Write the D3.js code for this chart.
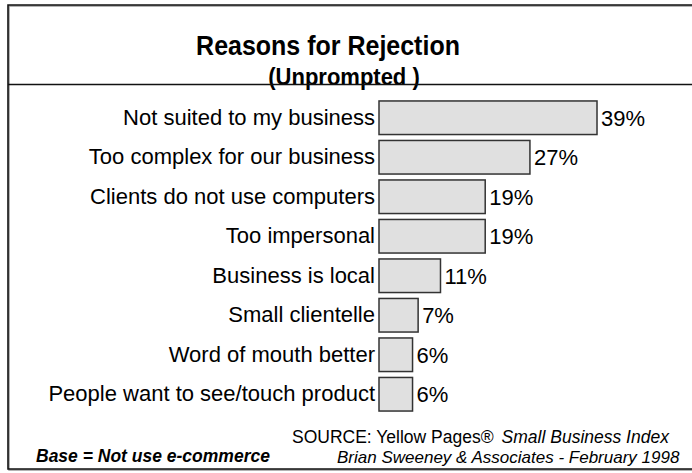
<!DOCTYPE html>
<html>
<head>
<meta charset="utf-8">
<script src="https://cdn.jsdelivr.net/npm/d3@7"></script>
<style>
  html, body { margin: 0; padding: 0; background: #fff; }
  svg { display: block; font-family: "Liberation Sans", Arial, Helvetica, sans-serif; }
</style>
</head>
<body>
<svg id="chart" width="692" height="473"></svg>
<script>
// Survey answers, in the order shown (largest first)
const reasons = [
  "Not suited to my business",
  "Too complex for our business",
  "Clients do not use computers",
  "Too impersonal",
  "Business is local",
  "Small clientelle",
  "Word of mouth better",
  "People want to see/touch product"
];
const shares = [39, 27, 19, 19, 11, 7, 6, 6];

const titleText = "Reasons for Rejection";
const subtitleText = "(Unprompted )";
const baseNote = "Base = Not use e-commerce";
const sourceLead = "SOURCE: Yellow Pages®";
const sourceTitle = "Small Business Index";
const creditLine = "Brian Sweeney & Associates - February 1998";

const svg = d3.select("#chart");

// Slide frame: open on the right, with a soft shadow line
const frame = svg.append("g");
frame.append("path")
  .attr("d", "M 700 6 L 9 6 L 9 470 L 700 470")
  .attr("fill", "none").attr("stroke", "#9a9a9a").attr("stroke-width", 1.5);
frame.append("path")
  .attr("d", "M 700 5 L 8 5 L 8 469 L 700 469")
  .attr("fill", "none").attr("stroke", "#111").attr("stroke-width", 1.6);

// Titles (slightly tall letterforms)
svg.append("text")
  .attr("transform", "translate(328,55) scale(1,1.1)")
  .attr("text-anchor", "middle")
  .attr("font-size", 25).attr("font-weight", "bold")
  .attr("fill", "#000")
  .text(titleText);

svg.append("text")
  .attr("transform", "translate(344,84.5) scale(1,1.05)")
  .attr("text-anchor", "middle")
  .attr("font-size", 22).attr("font-weight", "bold")
  .attr("fill", "#000")
  .text(subtitleText);

// Divider rule under the heading
svg.append("line")
  .attr("x1", 8).attr("x2", 692)
  .attr("y1", 84.5).attr("y2", 84.5)
  .attr("stroke", "#111").attr("stroke-width", 1.3);

// Scales
const x = d3.scaleLinear().domain([0, 100]).range([379, 379 + 559]);
const y = d3.scaleBand().domain(reasons).range([98, 414])
  .paddingInner(0.15).paddingOuter(0.075);

const data = reasons.map((r, i) => ({ reason: r, value: shares[i] }));

// Category axis (labels only, no line or ticks)
const yAxis = d3.axisLeft(y).tickSize(0).tickPadding(4);
const axisG = svg.append("g")
  .attr("transform", `translate(${x(0)},0)`)
  .call(yAxis);
axisG.select(".domain").remove();
axisG.selectAll("text")
  .attr("font-size", 22)
  .attr("font-family", '"Liberation Sans", Arial, sans-serif')
  .attr("fill", "#000");

// Bars
svg.append("g").selectAll("rect")
  .data(data)
  .join("rect")
  .attr("x", x(0))
  .attr("y", d => y(d.reason))
  .attr("width", d => x(d.value) - x(0))
  .attr("height", y.bandwidth())
  .attr("fill", "#e0e0e0")
  .attr("stroke", "#333")
  .attr("stroke-width", 1.5);

// Value labels
svg.append("g").selectAll("text")
  .data(data)
  .join("text")
  .attr("x", d => x(d.value) + 4)
  .attr("y", d => y(d.reason) + y.bandwidth() / 2)
  .attr("dy", "0.36em")
  .attr("font-size", 22)
  .attr("fill", "#000")
  .text(d => d.value + "%");

// Footer notes
svg.append("text")
  .attr("x", 36).attr("y", 462)
  .attr("font-size", 17.5).attr("font-weight", "bold").attr("font-style", "italic")
  .attr("fill", "#000")
  .text(baseNote);

const src = svg.append("text")
  .attr("x", 292).attr("y", 443)
  .attr("font-size", 17.5).attr("fill", "#000");
src.append("tspan").text(sourceLead);
src.append("tspan").attr("dx", 8).attr("font-style", "italic").text(sourceTitle);

svg.append("text")
  .attr("x", 337).attr("y", 463)
  .attr("font-size", 17).attr("font-style", "italic")
  .attr("fill", "#000")
  .text(creditLine);
</script>
</body>
</html>
